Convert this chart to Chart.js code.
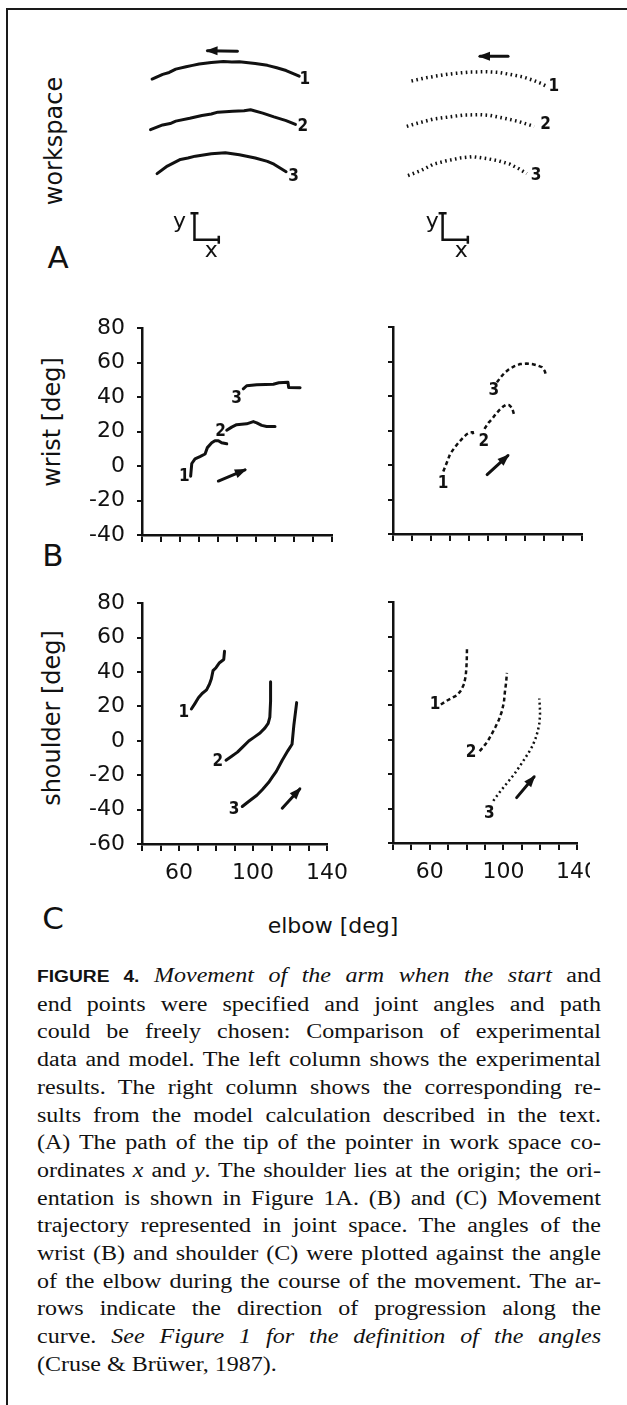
<!DOCTYPE html>
<html>
<head>
<meta charset="utf-8">
<title>Figure 4 – arm movement in workspace and joint space</title>
<script src="https://cdn.jsdelivr.net/npm/chart.js@4.4.1/dist/chart.umd.min.js"></script>
<style>
  html, body { margin: 0; padding: 0; background: #fff; }
  body { width: 627px; height: 1405px; position: relative; overflow: hidden; color: #111;
         font-family: "DejaVu Sans", "Liberation Sans", sans-serif; }
  .frame { position: absolute; left: 6px; top: 8px; right: -6px; bottom: -6px;
           border-top: 2px solid #1a1a1a; border-left: 2px solid #1a1a1a; }
  .box { position: absolute; }
  .box canvas { position: absolute; left: 0; top: 0; }
  .clip { position: absolute; overflow: hidden; }
  .vlabel { position: absolute; white-space: nowrap; font-size: 24px;
            transform: translate(-50%, -50%) rotate(-90deg); }
  .panel { position: absolute; font-size: 31px; transform: translate(-50%, -50%); }
  .xlabel { position: absolute; font-size: 22px; white-space: nowrap; transform: translate(-50%, -50%); }
  .caption { position: absolute; left: 37px; top: 962px; width: 470px;
             transform: scaleX(1.2); transform-origin: 0 0;
             font-family: "Liberation Serif", "Times New Roman", serif; font-size: 20px; line-height: 27.7px; }
  .caption .ln { text-align: justify; text-align-last: justify; }
  .caption .ln.last { text-align-last: left; }
  .caption .fig { font-family: "Liberation Sans", Arial, sans-serif; font-weight: bold; font-size: 16px; }
</style>
</head>
<body>
<div class="frame"></div>

<div class="vlabel" style="left:54px; top:141px;">workspace</div>
<div class="panel" style="left:58px; top:257px;">A</div>
<div class="vlabel" style="left:52px; top:422px;">wrist [deg]</div>
<div class="panel" style="left:53px; top:555px;">B</div>
<div class="vlabel" style="left:52px; top:718px;">shoulder [deg]</div>
<div class="panel" style="left:53px; top:918px;">C</div>
<div class="xlabel" style="left:333px; top:925px;">elbow [deg]</div>

<div class="box" style="left:130px; top:30px; width:200px; height:240px;"><canvas id="wsExp" width="200" height="240"></canvas></div>
<div class="box" style="left:380px; top:30px; width:200px; height:240px;"><canvas id="wsModel" width="200" height="240"></canvas></div>
<div class="box" style="left:72px; top:303px; width:285px; height:272px;"><canvas id="wristExp" width="285" height="272"></canvas></div>
<div class="box" style="left:323px; top:302px; width:284px; height:272px;"><canvas id="wristModel" width="284" height="272"></canvas></div>
<div class="box" style="left:72px; top:578px; width:285px; height:316px;"><canvas id="shoulderExp" width="285" height="316"></canvas></div>
<div class="clip" style="left:323px; top:577px; width:267px; height:316px;"><canvas id="shoulderModel" width="284" height="316" style="position:absolute;left:0;top:0;"></canvas></div>

<div class="caption" id="caption">
  <div class="ln"><span><span class="fig">FIGURE 4.</span> <i>Movement of the arm when the start</i> and</span></div>
  <div class="ln"><span>end points were specified and joint angles and path</span></div>
  <div class="ln"><span>could be freely chosen: Comparison of experimental</span></div>
  <div class="ln"><span>data and model. The left column shows the experimental</span></div>
  <div class="ln"><span>results. The right column shows the corresponding re-</span></div>
  <div class="ln"><span>sults from the model calculation described in the text.</span></div>
  <div class="ln"><span>(A) The path of the tip of the pointer in work space co-</span></div>
  <div class="ln"><span>ordinates <i>x</i> and <i>y</i>. The shoulder lies at the origin; the ori-</span></div>
  <div class="ln"><span>entation is shown in Figure 1A. (B) and (C) Movement</span></div>
  <div class="ln"><span>trajectory represented in joint space. The angles of the</span></div>
  <div class="ln"><span>wrist (B) and shoulder (C) were plotted against the angle</span></div>
  <div class="ln"><span>of the elbow during the course of the movement. The ar-</span></div>
  <div class="ln"><span>rows indicate the direction of progression along the</span></div>
  <div class="ln"><span>curve. <i>See Figure 1 for the definition of the angles</i></span></div>
  <div class="ln last"><span>(Cruse &amp; Brüwer, 1987).</span></div>
</div>

<script>
// ---------- axes ----------
const elbowTicks = [40, 50, 60, 70, 80, 90, 100, 110, 120, 130, 140];
const elbowTickLabels = [60, 100, 140];
const wristTicks = [-40, -20, 0, 20, 40, 60, 80];
const shoulderTicks = [-60, -40, -20, 0, 20, 40, 60, 80];

// ---------- A: path of the pointer tip in workspace (x, y) ----------
const workspaceExp1 = [[1.67,17.5],[2.8,18.0],[3.5,18.2],[4.2,18.55],[5.3,18.8],[6.0,18.95],[6.7,19.1],[8.0,19.25],[9.3,19.35],[10.2,19.3],[11.0,19.33],[12.7,19.15],[14.0,18.95],[15.0,18.7],[16.0,18.4],[16.7,18.1],[17.4,17.8]];
const workspaceExp2 = [[1.5,12.15],[2.8,12.65],[3.6,12.8],[4.2,13.05],[5.7,13.35],[7.0,13.65],[8.0,13.8],[8.7,14.0],[10.3,14.1],[11.5,14.15],[12.2,14.25],[13.5,13.9],[14.7,13.5],[16.0,13.1],[17.0,12.7]];
const workspaceExp3 = [[2.2,7.5],[3.3,8.3],[4.7,9.0],[5.5,9.15],[6.3,9.35],[8.0,9.6],[9.5,9.7],[11.0,9.5],[12.7,9.15],[14.0,8.8],[14.7,8.5],[16.0,7.7]];
const workspaceExpArrow = [[10.8,20.45],[7.6,20.5]];
const workspaceExpAxes = [[6.2,3.3],[6.2,0.5],[8.8,0.5]];
const workspaceExpLabels = [['1',18.0,17.4],['2',17.8,12.5],['3',16.8,7.2]];
const workspaceExpAxisNames = [['y',4.6,2.4],['x',8.0,-0.7]];

const workspaceModel1 = [[2.67,17.3],[4.3,17.65],[6.0,17.93],[7.3,18.1],[9.0,18.25],[10.7,18.27],[12.0,18.2],[13.2,18.0],[14.5,17.75],[15.6,17.4],[16.5,17.05],[17.0,16.8]];
const workspaceModel2 = [[2.17,12.5],[3.3,12.83],[5.0,13.27],[6.7,13.5],[8.3,13.7],[10.0,13.73],[11.0,13.67],[12.4,13.4],[14.0,13.05],[15.8,12.5]];
const workspaceModel3 = [[2.3,7.3],[3.7,7.83],[5.0,8.5],[6.3,8.83],[8.0,9.17],[9.2,9.3],[10.7,9.1],[12.0,8.85],[13.2,8.5],[14.2,8.0],[15.0,7.5]];
const workspaceModelArrow = [[13.0,19.9],[10.0,19.9]];
const workspaceModelAxes = [[6.0,3.3],[6.0,0.5],[8.7,0.5]];
const workspaceModelLabels = [['1',17.9,16.7],['2',17.0,12.7],['3',16.0,7.3]];
const workspaceModelAxisNames = [['y',4.9,2.4],['x',8.0,-0.7]];

// ---------- B: wrist angle against elbow angle [deg] ----------
const wristExp1 = [[65.6,-5.9],[66.2,1.5],[67.9,4.2],[70.5,5.5],[73.2,7.0],[74.4,10.7],[76.7,13.5],[78.4,14.7],[80.2,14.7],[81.9,13.5],[84.6,12.9]];
const wristExp2 = [[84.6,20.8],[87.2,22.6],[89.8,24.0],[95.1,24.5],[98.6,25.8],[100.4,25.1],[103.0,23.6],[105.6,23.0],[110.0,23.0]];
const wristExp3 = [[93.3,44.8],[95.1,46.6],[100.4,47.2],[105.0,47.4],[109.1,47.5],[112.0,48.3],[116.8,48.7],[117.2,45.6],[123.2,45.4]];
const wristExpArrow = [[80.2,-8.7],[94.2,-2.2]];
const wristExpLabels = [['1',62.3,-5.9],['2',81.4,19.9],['3',89.8,39.2]];

const wristModel1 = [[66.6,-3.7],[68.5,1.5],[70.2,6.4],[72.5,10.0],[74.6,12.9],[77.0,15.8],[79.0,17.9],[81.0,19.0],[82.2,19.0],[82.5,17.5]];
const wristModel2 = [[88.4,21.0],[90.5,24.5],[92.4,26.7],[94.5,29.8],[96.6,32.3],[98.3,34.0],[99.8,35.0],[101.5,34.8],[103.0,33.2],[104.0,29.5]];
const wristModel3 = [[95.0,48.0],[97.0,51.0],[99.0,53.5],[101.0,55.3],[104.0,57.3],[107.2,58.6],[110.5,58.9],[113.5,58.6],[116.5,57.8],[118.8,56.8],[120.3,54.5],[121.0,52.2]];
const wristModelArrow = [[89.8,-5.5],[100.8,5.5]];
const wristModelLabels = [['1',66.5,-10.8],['2',88.1,13.8],['3',93.4,43.3]];

// ---------- C: shoulder angle against elbow angle [deg] ----------
const shoulderExp1 = [[66.7,18.5],[68.5,21.5],[70.5,25.0],[72.5,27.5],[74.9,29.6],[76.5,33.0],[77.5,36.1],[78.4,40.8],[80.0,42.5],[81.9,45.4],[84.2,47.3],[84.6,52.0]];
const shoulderExp2 = [[85.4,-11.3],[88.5,-9.0],[91.6,-6.6],[94.5,-3.5],[97.7,-0.1],[100.5,2.0],[103.8,4.5],[106.5,7.5],[108.2,10.1],[109.1,13.8],[109.5,23.1],[109.5,34.3]];
const shoulderExp3 = [[94.2,-38.2],[98.0,-35.0],[102.1,-31.7],[105.0,-28.5],[108.4,-24.3],[110.5,-21.0],[112.6,-17.8],[115.8,-11.3],[118.9,-5.7],[121.1,-2.0],[122.1,9.2],[123.6,22.2]];
const shoulderExpArrow = [[115.8,-39.2],[125.3,-28.0]];
const shoulderExpLabels = [['1',62.6,16.6],['2',81.0,-12.2],['3',89.8,-40.1]];

const shoulderModel1 = [[66.0,20.5],[69.0,22.6],[72.3,24.5],[75.0,26.0],[77.0,28.8],[78.6,32.4],[79.5,37.0],[79.9,42.0],[80.1,47.0],[80.2,52.8]];
const shoulderModel2 = [[87.1,-6.6],[89.2,-4.0],[91.3,-1.1],[93.5,3.0],[95.6,7.3],[97.5,11.5],[99.2,16.6],[100.3,22.0],[100.8,27.7],[101.5,33.5],[101.9,38.9]];
const shoulderModel3 = [[94.5,-35.5],[97.0,-31.8],[99.8,-28.0],[103.0,-23.8],[106.1,-19.7],[108.8,-15.5],[111.4,-11.3],[113.7,-7.5],[115.7,-3.8],[117.4,0.5],[118.8,5.4],[119.6,10.0],[119.9,14.7],[119.8,19.5],[119.5,24.0]];
const shoulderModelArrow = [[107.2,-33.6],[116.7,-21.5]];
const shoulderModelLabels = [['1',62.8,20.3],['2',82.4,-7.6],['3',92.4,-42.9]];

// ---------- drawing ----------
const ink = '#111';
const tickFont = { family: '"DejaVu Sans", "Liberation Sans", sans-serif', size: 22 };
const numberFont = 'bold 17px "DejaVu Sans Condensed", "DejaVu Sans", sans-serif';
const letterFont = '22px "DejaVu Sans", "Liberation Sans", sans-serif';

Chart.defaults.animation = false;
Chart.defaults.responsive = false;

// arrowheads at the end of flagged datasets, and text placed in data units
const markers = {
  id: 'markers',
  afterDatasetsDraw(chart, _args, opts) {
    const ctx = chart.ctx, xs = chart.scales.x, ys = chart.scales.y;
    ctx.save();
    ctx.fillStyle = ink;
    chart.data.datasets.forEach((ds, i) => {
      if (!ds.arrow) return;
      const pts = chart.getDatasetMeta(i).data;
      const a = pts[pts.length - 2], b = pts[pts.length - 1];
      const ang = Math.atan2(b.y - a.y, b.x - a.x);
      const c = Math.cos(ang), s = Math.sin(ang);
      const len = 10, half = 4.5;
      ctx.beginPath();
      ctx.moveTo(b.x + c * 2, b.y + s * 2);
      ctx.lineTo(b.x - c * len - s * half, b.y - s * len + c * half);
      ctx.lineTo(b.x - c * len + s * half, b.y - s * len - c * half);
      ctx.closePath();
      ctx.fill();
    });
    (opts.groups || []).forEach(g => {
      ctx.font = g.font;
      ctx.textAlign = 'center';
      ctx.textBaseline = 'middle';
      g.items.forEach(([t, x, y]) => ctx.fillText(t, xs.getPixelForValue(x), ys.getPixelForValue(y)));
    });
    ctx.restore();
  }
};

const solid = { borderWidth: 3, borderCapStyle: 'round', borderJoinStyle: 'round' };
const dashed = { borderWidth: 2.5, borderDash: [4, 3], borderCapStyle: 'butt' };
const dotted = { borderWidth: 2.5, borderDash: [2, 3], borderCapStyle: 'butt' };
const beads = { borderWidth: 3.5, borderDash: [1.6, 3.4], borderCapStyle: 'butt' };
const pointer = { borderWidth: 3, borderCapStyle: 'round', arrow: true };

function curve(points, style) {
  return Object.assign({
    data: points.map(([x, y]) => ({ x, y })),
    showLine: true, pointRadius: 0, borderColor: ink, tension: 0, fill: false
  }, style);
}

function axesGlyph(points) {
  return curve(points, {
    borderWidth: 2.5, pointStyle: 'line', pointRadius: [4, 0, 4],
    pointRotation: [0, 0, 90], pointBorderWidth: 2.5, pointBorderColor: ink
  });
}

function workspaceChart(id, curves, style, arrow, axes, labels, axisNames) {
  return new Chart(document.getElementById(id), {
    type: 'scatter',
    data: { datasets: [...curves.map(c => curve(c, style)), curve(arrow, pointer), axesGlyph(axes)] },
    options: {
      layout: { padding: 0 },
      scales: {
        x: { type: 'linear', display: false, min: 0, max: 20 },
        y: { type: 'linear', display: false, min: -2, max: 22 }
      },
      plugins: {
        legend: { display: false }, tooltip: { enabled: false },
        markers: { groups: [{ font: numberFont, items: labels }, { font: letterFont, items: axisNames }] }
      }
    },
    plugins: [markers]
  });
}

function jointChart(id, yTicks, curves, styles, arrow, labels, showY, showX) {
  const xh = showX ? 50 : 40;
  return new Chart(document.getElementById(id), {
    type: 'scatter',
    data: { datasets: [...curves.map((c, i) => curve(c, styles[i])), curve(arrow, pointer)] },
    options: {
      layout: { padding: { top: 15, right: 25, left: 0, bottom: 0 } },
      scales: {
        x: {
          type: 'linear', min: elbowTicks[0], max: elbowTicks[elbowTicks.length - 1],
          afterBuildTicks: s => { s.ticks = elbowTicks.map(v => ({ value: v })); },
          ticks: { autoSkip: false, maxRotation: 0, padding: 9, color: ink, font: tickFont,
                   callback: v => (showX && elbowTickLabels.includes(v)) ? String(v) : '' },
          grid: { drawOnChartArea: false, drawTicks: true, tickLength: 7, lineWidth: 2, color: ink },
          border: { display: true, width: 2.5, color: ink },
          afterFit: s => { s.height = xh; }
        },
        y: {
          type: 'linear', min: yTicks[0], max: yTicks[yTicks.length - 1],
          afterBuildTicks: s => { s.ticks = yTicks.map(v => ({ value: v })); },
          ticks: { autoSkip: false, padding: 12, color: ink, font: tickFont,
                   callback: v => showY ? String(v) : '' },
          grid: { drawOnChartArea: false, drawTicks: true, tickLength: 5, lineWidth: 2, color: ink },
          border: { display: true, width: 2.5, color: ink },
          afterFit: s => { s.width = 70; }
        }
      },
      plugins: {
        legend: { display: false }, tooltip: { enabled: false },
        markers: { groups: [{ font: numberFont, items: labels }] }
      }
    },
    plugins: [markers]
  });
}

workspaceChart('wsExp', [workspaceExp1, workspaceExp2, workspaceExp3], solid,
  workspaceExpArrow, workspaceExpAxes, workspaceExpLabels, workspaceExpAxisNames);
workspaceChart('wsModel', [workspaceModel1, workspaceModel2, workspaceModel3], beads,
  workspaceModelArrow, workspaceModelAxes, workspaceModelLabels, workspaceModelAxisNames);

jointChart('wristExp', wristTicks, [wristExp1, wristExp2, wristExp3], [solid, solid, solid],
  wristExpArrow, wristExpLabels, true, false);
jointChart('wristModel', wristTicks, [wristModel1, wristModel2, wristModel3], [dashed, dashed, dashed],
  wristModelArrow, wristModelLabels, false, false);
jointChart('shoulderExp', shoulderTicks, [shoulderExp1, shoulderExp2, shoulderExp3], [solid, solid, solid],
  shoulderExpArrow, shoulderExpLabels, true, true);
jointChart('shoulderModel', shoulderTicks, [shoulderModel1, shoulderModel2, shoulderModel3], [dashed, dashed, dotted],
  shoulderModelArrow, shoulderModelLabels, false, true);

// tighten any caption line whose natural width exceeds the column
document.querySelectorAll('#caption .ln').forEach(div => {
  const span = div.firstElementChild;
  div.style.whiteSpace = 'nowrap';
  div.style.textAlignLast = 'left';
  const w = span.getBoundingClientRect().width / 1.2;
  const n = span.textContent.length;
  if (w > 468) div.style.letterSpacing = ((468 - w) / n).toFixed(3) + 'px';
  div.style.whiteSpace = '';
  div.style.textAlignLast = '';
});
</script>
</body>
</html>
